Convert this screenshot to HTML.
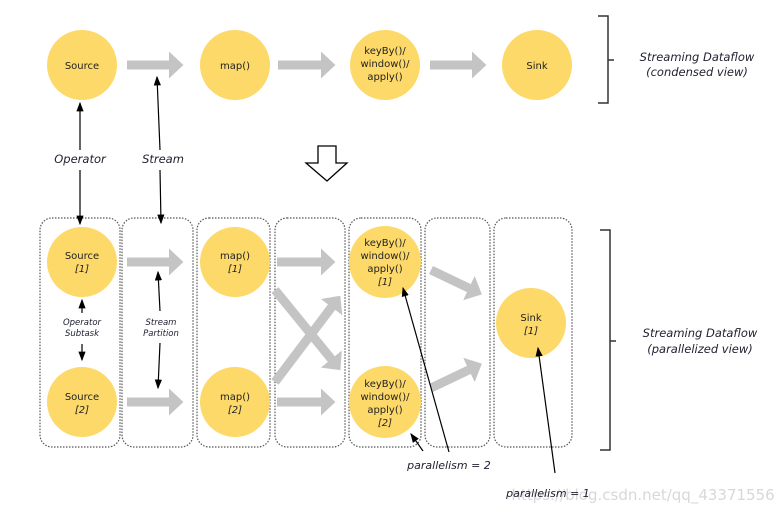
<!DOCTYPE html>
<html><head><meta charset="utf-8"><style>
body{margin:0;background:#fff}
svg text{font-family:"DejaVu Sans","Liberation Sans",sans-serif}
</style></head><body>
<svg width="776" height="516" viewBox="0 0 776 516" xmlns="http://www.w3.org/2000/svg">
<defs>
<marker id="ah" markerWidth="8" markerHeight="8" refX="7" refY="4" orient="auto"><path d="M0,1 L8,4 L0,7z" fill="#000"/></marker>
<marker id="g" markerWidth="3" markerHeight="3" refX="1" refY="1.5" orient="auto" markerUnits="strokeWidth"><path d="M0,0 L1.6,1.5 L0,3z" fill="#c4c4c4"/></marker>
</defs>
<g fill="none" stroke="#555" stroke-dasharray="1.5,1.5" stroke-width="1.2">
<rect x="40" y="218" width="80" height="229" rx="12"/>
<rect x="122" y="218" width="71" height="229" rx="12"/>
<rect x="197" y="218" width="73" height="229" rx="12"/>
<rect x="275" y="218" width="70" height="229" rx="12"/>
<rect x="349" y="218" width="72" height="229" rx="12"/>
<rect x="425" y="218" width="65" height="229" rx="12"/>
<rect x="494" y="218" width="78" height="229" rx="12"/>
</g>
<g stroke="#c4c4c4" stroke-width="9" fill="none" marker-end="url(#g)">
<line x1="127" y1="65" x2="178" y2="65"/><line x1="278" y1="65" x2="330" y2="65"/><line x1="430" y1="65" x2="481" y2="65"/>
<line x1="127" y1="262" x2="178" y2="262"/><line x1="127" y1="402" x2="178" y2="402"/>
<line x1="277" y1="262" x2="330" y2="262"/><line x1="277" y1="402" x2="330" y2="402"/>
<line x1="275" y1="290" x2="337" y2="366"/><line x1="275" y1="382" x2="337" y2="300"/>
<line x1="431" y1="270" x2="477" y2="292"/><line x1="431" y1="388" x2="477" y2="366"/>
</g>
<g fill="#fdd96a">
<circle cx="82" cy="65" r="35"/><circle cx="235" cy="65" r="35"/><circle cx="385" cy="65" r="35"/><circle cx="537" cy="65" r="35"/>
<circle cx="82" cy="262" r="35"/><circle cx="82" cy="402" r="35"/><circle cx="235" cy="262" r="35"/><circle cx="235" cy="402" r="35"/>
<circle cx="385" cy="262" r="36"/><circle cx="385" cy="402" r="36"/><circle cx="531" cy="323" r="35"/>
</g>
<g font-size="10" fill="#222" text-anchor="middle">
<text x="82" y="69">Source</text><text x="235" y="69">map()</text>
<text x="385" y="54">keyBy()/</text><text x="385" y="67">window()/</text><text x="385" y="80">apply()</text>
<text x="537" y="69">Sink</text>
<text x="82" y="259">Source</text><text x="82" y="272" font-style="italic">[1]</text>
<text x="82" y="400">Source</text><text x="82" y="413" font-style="italic">[2]</text>
<text x="235" y="259">map()</text><text x="235" y="272" font-style="italic">[1]</text>
<text x="235" y="400">map()</text><text x="235" y="413" font-style="italic">[2]</text>
<text x="385" y="246">keyBy()/</text><text x="385" y="259">window()/</text><text x="385" y="272">apply()</text><text x="385" y="285" font-style="italic">[1]</text>
<text x="385" y="387">keyBy()/</text><text x="385" y="400">window()/</text><text x="385" y="413">apply()</text><text x="385" y="426" font-style="italic">[2]</text>
<text x="531" y="321">Sink</text><text x="531" y="334" font-style="italic">[1]</text>
</g>
<g font-style="italic" fill="#223" text-anchor="middle">
<text x="80" y="163" font-size="11.5">Operator</text><text x="163" y="163" font-size="11.5">Stream</text>
<text x="82" y="325" font-size="8.5">Operator</text><text x="82" y="336" font-size="8.5">Subtask</text>
<text x="161" y="325" font-size="8.5">Stream</text><text x="161" y="336" font-size="8.5">Partition</text>
<text x="697" y="61" font-size="11.5">Streaming Dataflow</text><text x="697" y="76" font-size="11.5">(condensed view)</text>
<text x="700" y="337" font-size="11.5">Streaming Dataflow</text><text x="700" y="353" font-size="11.5">(parallelized view)</text>
<text x="449" y="469" font-size="11">parallelism = 2</text>
</g>
<text x="643" y="500" font-size="15" fill="#d8d8d8" text-anchor="middle" font-family="Liberation Sans,sans-serif">https://blog.csdn.net/qq_43371556</text>
<text x="548" y="497" font-size="11" font-style="italic" fill="#223" text-anchor="middle">parallelism = 1</text>
<g stroke="#000" stroke-width="1.2" fill="none">
<line x1="80" y1="150" x2="80" y2="103" marker-end="url(#ah)"/><line x1="80" y1="170" x2="80" y2="224" marker-end="url(#ah)"/>
<line x1="160" y1="150" x2="157" y2="77" marker-end="url(#ah)"/><line x1="160" y1="170" x2="161" y2="223" marker-end="url(#ah)"/>
<line x1="82" y1="313" x2="82" y2="300" marker-end="url(#ah)"/><line x1="82" y1="344" x2="82" y2="360" marker-end="url(#ah)"/>
<line x1="160" y1="311" x2="158" y2="272" marker-end="url(#ah)"/><line x1="160" y1="343" x2="158" y2="388" marker-end="url(#ah)"/>
<line x1="449" y1="452" x2="403" y2="288" marker-end="url(#ah)"/><line x1="423" y1="451" x2="411" y2="434" marker-end="url(#ah)"/>
<line x1="555" y1="473" x2="538" y2="348" marker-end="url(#ah)"/>
<path d="M598,16 H608 V103 H598 M608,60 H614" stroke="#333" stroke-width="1.5"/>
<path d="M600,230 H610 V450 H600 M610,341 H616" stroke="#333" stroke-width="1.5"/>
<path d="M318,146 H336 V163 H347 L327,181 L306,163 H318 Z" stroke="#000" stroke-width="1.3"/>
</g>
</svg>
</body></html>
